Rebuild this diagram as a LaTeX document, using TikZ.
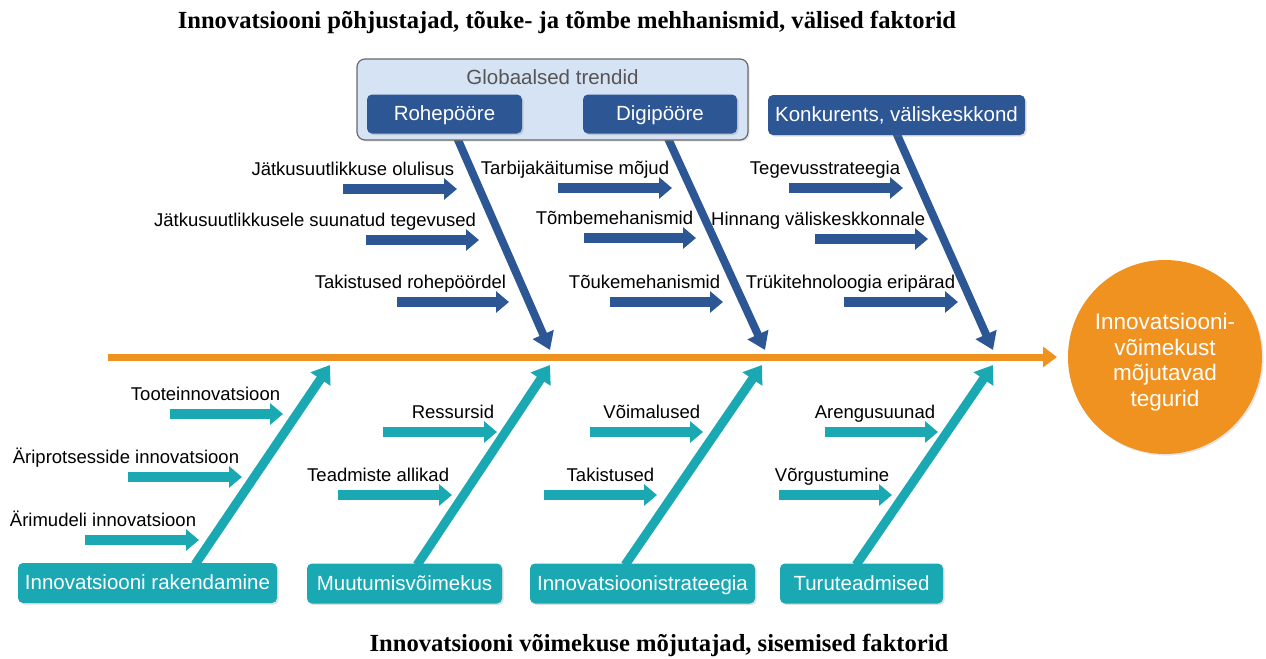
\documentclass[tikz,border=0pt]{standalone}
\usepackage{fontspec}
\setmainfont{Liberation Sans}
\newfontfamily\titlefont{Liberation Serif}
\usetikzlibrary{arrows.meta,shadows,backgrounds}

\definecolor{navy}{RGB}{45,86,149}
\definecolor{tealc}{RGB}{26,168,178}
\definecolor{spineorange}{RGB}{240,146,32}
\definecolor{trendfill}{RGB}{214,227,244}
\definecolor{trendline}{RGB}{105,105,105}
\definecolor{trendtext}{RGB}{85,85,85}

% one small cause arrow with its label above it, right-aligned to the tip
% #1 style, #2 name, #3 start x, #4 tip x, #5 y, #6 text
\newcommand\smallcause[6]{%
  \coordinate (#2s) at (#3,#5);
  \coordinate (#2e) at (#4,#5);
  \draw[#1] (#2s) -- (#2e);
  \node[lbl] (#2t) at ([xshift=-1.25pt,yshift=7pt]#2e) {#6};
}

\begin{document}
\begin{tikzpicture}[x=0.5pt,y=-0.5pt,
  causebox/.style={rounded corners=2.5pt, text=white, inner sep=0pt,
    text height=0.72em, text depth=0.03em,
    font=\fontsize{10.25}{12}\selectfont,
    drop shadow={opacity=0.25,shadow xshift=0.8pt,shadow yshift=-0.8pt}},
  outerbox/.style={causebox, fill=navy},
  innerbox/.style={causebox, fill=tealc},
  lbl/.style={inner sep=0pt, anchor=base east, font=\fontsize{9.25}{11}\selectfont},
  navyarrow/.style={draw=navy, line width=5pt, -{Triangle[length=6.5pt,width=10.5pt]}},
  tealarrow/.style={draw=tealc, line width=5pt, -{Triangle[length=6.5pt,width=10.5pt]}},
  navybone/.style={draw=navy, line width=4pt, -{Triangle[length=8.5pt,width=11pt]}},
  tealbone/.style={draw=tealc, line width=4.5pt, -{Triangle[length=8.5pt,width=11.5pt]}},
  spine/.style={draw=spineorange, line width=3.5pt, -{Triangle[length=7pt,width=10pt]}},
]
\useasboundingbox (0,0) rectangle (1266,659);

% titles
\node[font={\titlefont\bfseries\fontsize{12.3}{14}\selectfont}] (toptitle) at (567,22)
  {Innovatsiooni põhjustajad, tõuke- ja tõmbe mehhanismid, välised faktorid};
\node[font={\titlefont\bfseries\fontsize{12.3}{14}\selectfont}] (bottomtitle) at (659,645)
  {Innovatsiooni võimekuse mõjutajad, sisemised faktorid};

% global trends group
\node[draw=trendline, line width=0.6pt, fill=trendfill, rounded corners=4pt,
      minimum width=195.5pt, minimum height=40.5pt,
      drop shadow={opacity=0.2,shadow xshift=0.8pt,shadow yshift=-0.8pt}] (trends) at (552.5,99.5) {};
\node[text=trendtext, font=\fontsize{10.25}{12}\selectfont] (trendstitle) at (552.5,77) {Globaalsed trendid};

% external cause boxes
\node[outerbox, minimum width=77.5pt, minimum height=19.5pt] (roh) at (444.5,114) {Rohepööre};
\node[outerbox, minimum width=77pt, minimum height=19.5pt] (dig) at (660,114) {Digipööre};
\node[outerbox, minimum width=128.5pt, minimum height=20pt] (kon) at (896.5,115) {Konkurents, väliskeskkond};

% internal cause boxes
\node[innerbox, minimum width=129.5pt, minimum height=20pt] (rak) at (147.5,583) {Innovatsiooni rakendamine};
\node[innerbox, minimum width=97.5pt, minimum height=20pt] (muu) at (404.5,583.5) {Muutumisvõimekus};
\node[innerbox, minimum width=112.5pt, minimum height=20pt] (ins) at (642.5,583.5) {Innovatsioonistrateegia};
\node[innerbox, minimum width=81.5pt, minimum height=20pt] (tur) at (861.5,583.5) {Turuteadmised};

% effect
\node[circle, fill=spineorange, minimum size=97pt, inner sep=0pt,
      drop shadow={opacity=0.2,shadow xshift=0.8pt,shadow yshift=-0.8pt}] (goal) at (1165,357) {};
\node[text=white, align=center, font=\fontsize{11.25}{12.75}\selectfont] (goaltext) at (1165,362)
  {Innovatsiooni-\\võimekust\\mõjutavad\\tegurid};

% spine
\coordinate (spineL) at (108,357);
\coordinate (spineR) at (1057,357);
\draw[spine] (spineL) -- (spineR);

% bone tips on the spine
\coordinate (e1) at (550,350);
\coordinate (e2) at (765,350);
\coordinate (e3) at (993,350);
\coordinate (s1) at (330,365);
\coordinate (s2) at (550,365);
\coordinate (s3) at (762,365);
\coordinate (s4) at (993,365);

\begin{pgfonlayer}{background}
  \draw[navybone] ([xshift=5pt,yshift=1pt]roh.south) -- (e1);
  \draw[navybone] ([xshift=2.5pt,yshift=1pt]dig.south) -- (e2);
  \draw[navybone] ([yshift=1pt]kon.south) -- (e3);
  \draw[tealbone] ([xshift=23.75pt,yshift=-1pt]rak.north) -- (s1);
  \draw[tealbone] ([xshift=6.25pt,yshift=-1pt]muu.north) -- (s2);
  \draw[tealbone] ([xshift=-8.75pt,yshift=-1pt]ins.north) -- (s3);
  \draw[tealbone] ([xshift=-2.75pt,yshift=-1pt]tur.north) -- (s4);
\end{pgfonlayer}

% external sub-causes
\smallcause{navyarrow}{a1}{343}{457}{189}{Jätkusuutlikkuse olulisus}
\smallcause{navyarrow}{a2}{366}{479}{240}{Jätkusuutlikkusele suunatud tegevused}
\smallcause{navyarrow}{a3}{397}{509}{302}{Takistused rohepöördel}
\smallcause{navyarrow}{a4}{558}{672}{188}{Tarbijakäitumise mõjud}
\smallcause{navyarrow}{a5}{584}{696}{238}{Tõmbemehanismid}
\smallcause{navyarrow}{a6}{610}{723}{302}{Tõukemehanismid}
\smallcause{navyarrow}{a7}{789}{903}{188}{Tegevusstrateegia}
\smallcause{navyarrow}{a8}{815}{928}{239}{Hinnang väliskeskkonnale}
\smallcause{navyarrow}{a9}{844}{958}{302}{Trükitehnoloogia eripärad}

% internal sub-causes
\smallcause{tealarrow}{b1}{170}{283}{414}{Tooteinnovatsioon}
\smallcause{tealarrow}{b2}{128}{242}{477}{Äriprotsesside innovatsioon}
\smallcause{tealarrow}{b3}{85}{199}{540}{Ärimudeli innovatsioon}
\smallcause{tealarrow}{b4}{383}{497}{432}{Ressursid}
\smallcause{tealarrow}{b5}{338}{452}{495}{Teadmiste allikad}
\smallcause{tealarrow}{b6}{590}{703}{432}{Võimalused}
\smallcause{tealarrow}{b7}{544}{657}{495}{Takistused}
\smallcause{tealarrow}{b8}{825}{938}{432}{Arengusuunad}
\smallcause{tealarrow}{b9}{779}{892}{495}{Võrgustumine}
\end{tikzpicture}
\end{document}
